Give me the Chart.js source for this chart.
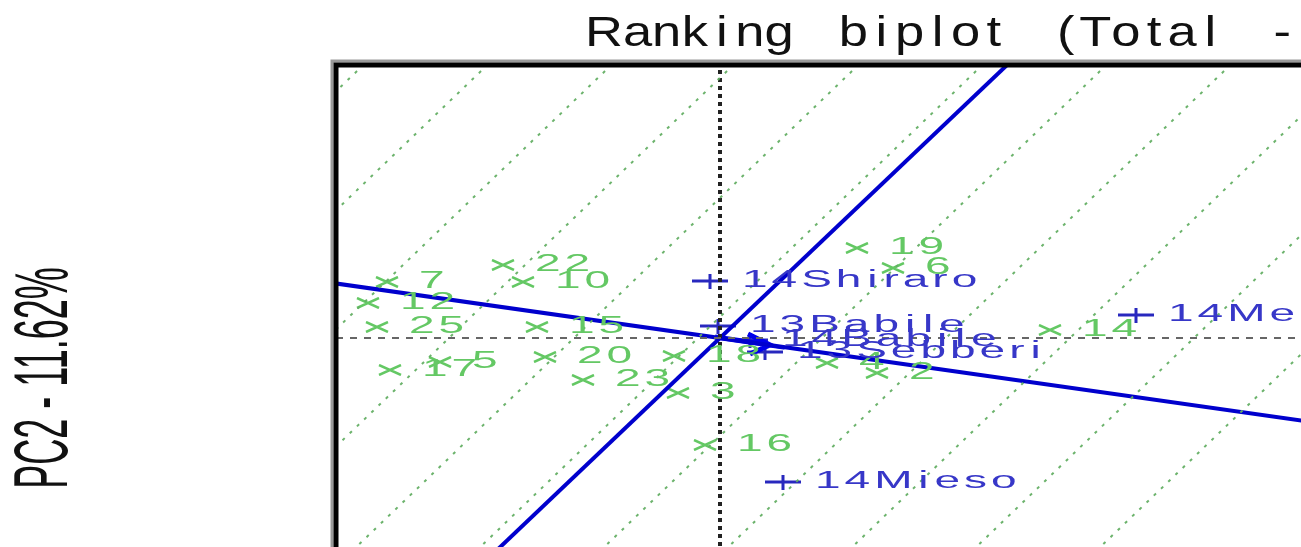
<!DOCTYPE html>
<html>
<head>
<meta charset="utf-8">
<script src="https://cdn.jsdelivr.net/npm/chart.js@4.4.1/dist/chart.umd.min.js"></script>
<style>
  html, body { margin: 0; padding: 0; background: #fff; overflow: hidden; }
  canvas { display: block; }
</style>
</head>
<body>
<canvas id="biplot" width="1301" height="547"></canvas>
<script>
// genotypes (PC1, PC2)
const genNames = ['19', '6', '22', '10', '7', '12', '25', '15', '17', '5', '20', '18', '23', '3', '16', '14', '4', '2'];
const genPC1 = [1.37, 1.73, -2.17, -1.97, -3.33, -3.52, -3.43, -1.83, -3.30, -2.80, -1.75, -0.46, -1.37, -0.42, -0.15, 3.30, 1.07, 1.57];
const genPC2 = [0.90, 0.70, 0.73, 0.56, 0.56, 0.35, 0.11, 0.11, -0.32, -0.24, -0.19, -0.18, -0.42, -0.55, -1.07, 0.08, -0.25, -0.35];

// environments
const envNames = ['14Shiraro', '13Babile', '14Babile', '13Sebberi', '14Melkassa', '14Mieso'];
const envPC1 = [-0.10, -0.02, 0.30, 0.45, 4.16, 0.63];
const envPC2 = [0.57, 0.12, -0.02, -0.14, 0.23, -1.44];

// ranking lines through the origin (slopes) and the parallel guide lines
const aecSlopes = [0.951, -0.142];
const guideSlope = 0.96;
const guideIntercepts = [-6.41, -5.17, -3.93, -2.71, -1.46, -0.22, 1.02, 2.26, 3.50, 4.74, 5.98];

const titleText = 'Ranking biplot (Total - 88.42%)';
const yTitle = 'PC2 - 11.62%';

function makeMark(w, h, color, type) {
    const c = document.createElement('canvas');
    c.width = w; c.height = h;
    const g = c.getContext('2d');
    g.strokeStyle = color;
    if (type === 'x') {
        g.lineWidth = 2.5;
        g.beginPath();
        g.moveTo(1, 1); g.lineTo(w - 1, h - 1);
        g.moveTo(w - 1, 1); g.lineTo(1, h - 1);
        g.stroke();
    } else {
        g.lineWidth = 3;
        g.beginPath();
        g.moveTo(0, h / 2); g.lineTo(w, h / 2);
        g.moveTo(w / 2, 0); g.lineTo(w / 2, h);
        g.stroke();
    }
    return c;
}

// widened glyphs, narrow letters get a minimum width (the original is a blown-up bitmap)
function wideText(ctx, str, x, y, sx, minAdv, gap, spaceAdv) {
    for (let i = 0; i < str.length; i++) {
        const ch = str[i];
        let adv = spaceAdv;
        if (ch !== ' ') adv = Math.max(ctx.measureText(ch).width * sx, minAdv) + gap;
        ctx.save();
        ctx.translate(x + adv / 2, y);
        ctx.scale(sx, 1);
        ctx.fillText(ch, 0, 0);
        ctx.restore();
        x += adv;
    }
}

const green = 'rgb(100,200,100)';
const blue = 'rgb(40,40,190)';

let datasets = [];

guideIntercepts.forEach(c => {
    datasets.push({
        data: [{x: c + (-4) / guideSlope, y: -4}, {x: c + 4 / guideSlope, y: 4}],
        showLine: true, pointRadius: 0,
        borderColor: 'rgba(100,175,100,0.95)', borderWidth: 2, borderDash: [3, 7]
    });
});

// axes through the origin
datasets.push({
    data: [{x: -10, y: 0}, {x: 10, y: 0}],
    showLine: true, pointRadius: 0,
    borderColor: '#666', borderWidth: 2, borderDash: [7, 7]
});
datasets.push({
    data: [{x: 0, y: -10}, {x: 0, y: 10}],
    showLine: true, pointRadius: 0,
    borderColor: '#222', borderWidth: 4, borderDash: [4, 4]
});

aecSlopes.forEach(s => {
    datasets.push({
        data: [{x: -10, y: -10 * s}, {x: 10, y: 10 * s}],
        showLine: true, pointRadius: 0,
        borderColor: 'rgb(0,0,205)', borderWidth: 4
    });
});

// arrow of the average environment
datasets.push({
    data: [{x: -0.05, y: 0.01}, {x: 0.5, y: -0.07}, {x: 0.28, y: 0.04}, {x: 0.5, y: -0.07}, {x: 0.3, y: -0.16}],
    showLine: true, pointRadius: 0,
    borderColor: 'rgb(0,0,235)', borderWidth: 5
});

datasets.push({
    data: genPC1.map((v, i) => ({x: v, y: genPC2[i]})),
    showLine: false,
    pointStyle: makeMark(24, 12, green, 'x'),
    pointRadius: 8
});
datasets.push({
    data: envPC1.map((v, i) => ({x: v, y: envPC2[i]})),
    showLine: false,
    pointStyle: makeMark(36, 15, blue, '+'),
    pointRadius: 8
});

const biplotText = {
    id: 'biplotText',
    afterDatasetsDraw(chart) {
        const ctx = chart.ctx;
        const a = chart.chartArea;
        const xs = chart.scales.x, ys = chart.scales.y;
        ctx.save();
        ctx.beginPath();
        ctx.rect(a.left, a.top, a.right - a.left, a.bottom - a.top);
        ctx.clip();
        ctx.font = '23px "Liberation Sans", Arial, sans-serif';
        ctx.textAlign = 'center';
        ctx.textBaseline = 'middle';
        ctx.fillStyle = green;
        genNames.forEach((n, i) => {
            wideText(ctx, n, xs.getPixelForValue(genPC1[i]) + 30, ys.getPixelForValue(genPC2[i]), 2.0, 14, 4, 20);
        });
        ctx.fillStyle = 'rgb(55,55,200)';
        envNames.forEach((n, i) => {
            wideText(ctx, n, xs.getPixelForValue(envPC1[i]) + 30, ys.getPixelForValue(envPC2[i]), 2.0, 14, 4, 20);
        });
        ctx.restore();

        // frame (left and top only, the rest is cut off)
        ctx.save();
        ctx.strokeStyle = '#999';
        ctx.lineWidth = 3;
        ctx.beginPath();
        ctx.moveTo(a.left - 5, a.bottom); ctx.lineTo(a.left - 5, a.top - 4); ctx.lineTo(a.right, a.top - 4);
        ctx.stroke();
        ctx.strokeStyle = '#000';
        ctx.lineWidth = 5;
        ctx.beginPath();
        ctx.moveTo(a.left - 1, a.bottom); ctx.lineTo(a.left - 1, a.top); ctx.lineTo(a.right, a.top);
        ctx.stroke();
        ctx.restore();

        // title
        ctx.save();
        ctx.fillStyle = '#111';
        ctx.font = '42px "Liberation Sans", Arial, sans-serif';
        ctx.textAlign = 'center';
        ctx.textBaseline = 'alphabetic';
        wideText(ctx, titleText, 585, 46, 1.25, 27, 0, 45);
        ctx.restore();

        // y axis title
        ctx.save();
        ctx.fillStyle = '#111';
        ctx.font = '36px "Liberation Sans", Arial, sans-serif';
        ctx.textAlign = 'center';
        ctx.textBaseline = 'middle';
        ctx.translate(46, 378);
        ctx.rotate(-Math.PI / 2);
        ctx.scale(1, 2.1);
        ctx.fillText(yTitle, 0, 0);
        ctx.restore();
    }
};

const ctx = document.getElementById('biplot').getContext('2d');
new Chart(ctx, {
    type: 'scatter',
    data: { datasets: datasets },
    options: {
        responsive: false,
        animation: false,
        layout: { padding: { left: 337, top: 65, right: 0, bottom: 0 }, autoPadding: false },
        plugins: { legend: { display: false }, tooltip: { enabled: false }, title: { display: false } },
        scales: {
            x: { type: 'linear', min: -3.83, max: 5.81, display: false },
            y: { type: 'linear', min: -2.09, max: 2.73, display: false }
        }
    },
    plugins: [biplotText]
});
</script>
</body>
</html>
